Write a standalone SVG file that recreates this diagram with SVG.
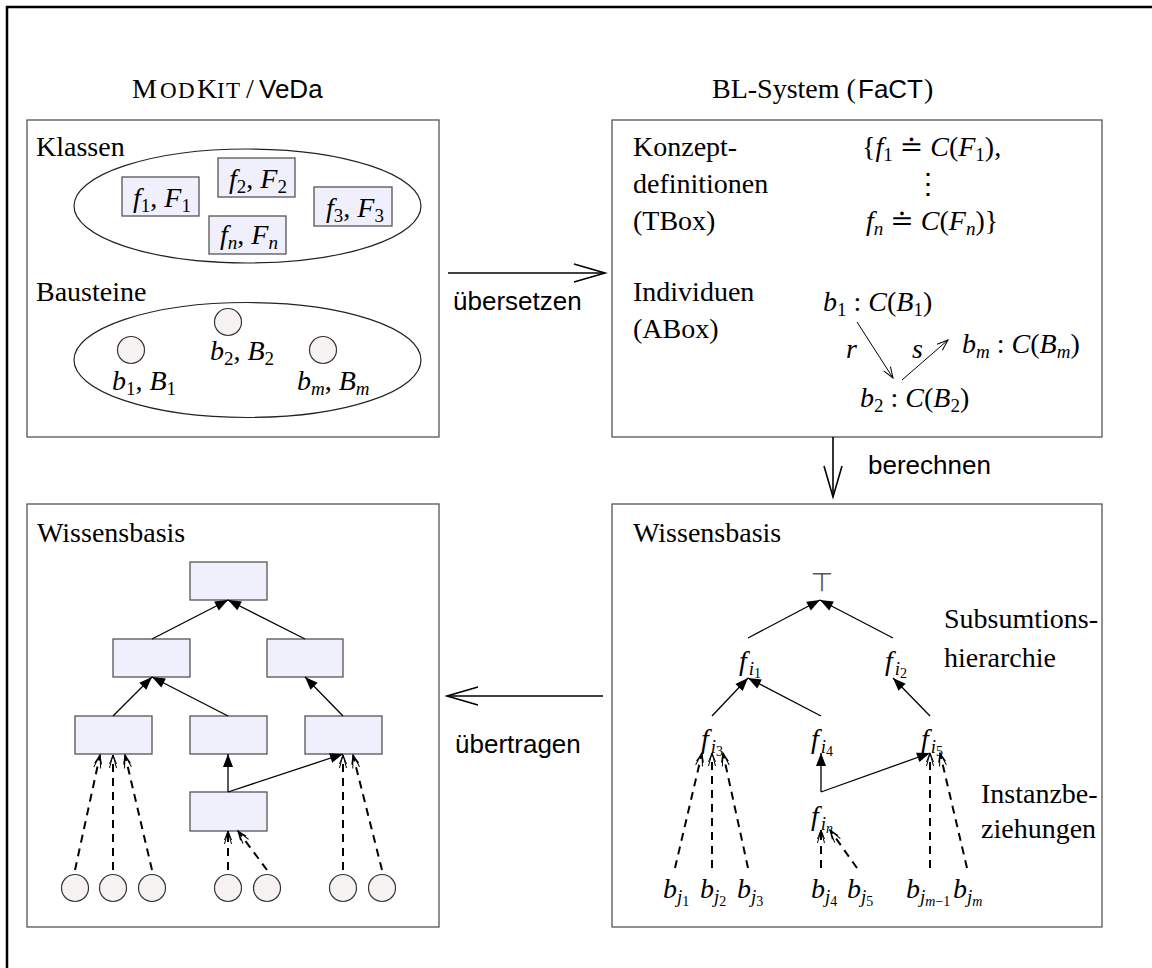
<svg xmlns="http://www.w3.org/2000/svg" width="1152" height="968" viewBox="0 0 1152 968">
<style>
.rm{font-family:"Liberation Serif","DejaVu Serif",serif;font-size:28px;fill:#000}
.it{font-style:italic}
.sb{font-size:19px}
.ss{font-size:14px}
.sf{font-family:"Liberation Sans","DejaVu Sans",sans-serif;font-size:26px;fill:#000}
.panel{fill:#fff;stroke:#555;stroke-width:1.3}
.box{fill:#f0f0fc;stroke:#555;stroke-width:1.3}
.ball{fill:#f7f2f2;stroke:#333;stroke-width:1.2}
.ell{fill:none;stroke:#222;stroke-width:1.2}
.big{fill:none;stroke:#000;stroke-width:1.6;marker-end:url(#bigo)}
.sol{fill:none;stroke:#000;stroke-width:1.3;marker-end:url(#tri)}
.dsh{fill:none;stroke:#000;stroke-width:2;stroke-dasharray:8 6;marker-end:url(#dh)}
.thin{fill:none;stroke:#000;stroke-width:1;marker-end:url(#so)}
</style>
<defs>
<marker id="bigo" markerUnits="userSpaceOnUse" markerWidth="34" markerHeight="20" refX="31" refY="9" orient="auto" overflow="visible"><path d="M0,0 L31,9 L0,18" fill="none" stroke="#000" stroke-width="1.6"/></marker>
<marker id="tri" markerUnits="userSpaceOnUse" markerWidth="14" markerHeight="12" refX="13" refY="5" orient="auto" overflow="visible"><path d="M0,0 L13,5 L0,10 z" fill="#000" stroke="none"/></marker>
<marker id="dh" markerUnits="userSpaceOnUse" markerWidth="16" markerHeight="10" refX="13" refY="4" orient="auto" overflow="visible"><path d="M0,0.5 L13,4 L0,7.5 M4,0.5 L13,4 L4,7.5" fill="none" stroke="#000" stroke-width="1" stroke-dasharray="none"/></marker>
<marker id="so" markerUnits="userSpaceOnUse" markerWidth="12" markerHeight="10" refX="11" refY="4" orient="auto" overflow="visible"><path d="M0,0 L11,4 L0,8" fill="none" stroke="#000" stroke-width="1"/></marker>
</defs>
<rect width="1152" height="968" fill="#fff"/>
<g id="frame"><path d="M7,968 L7,7 L1152,7" fill="none" stroke="#000" stroke-width="2.5"/></g>

<g id="titles">
<text class="rm" y="98"><tspan x="132">M</tspan><tspan x="160" font-size="23">O</tspan><tspan x="178" font-size="23">D</tspan><tspan x="197">K</tspan><tspan x="217" font-size="23">I</tspan><tspan x="226" font-size="23">T</tspan></text>
<text class="rm" x="246" y="98">/</text>
<text class="sf" x="259" y="98">VeDa</text>
<text class="rm" x="712" y="98">BL-System (</text>
<text class="sf" x="858" y="98">FaCT</text>
<text class="rm" x="924" y="98">)</text>
</g>

<g id="panel-modkit">
<rect class="panel" x="27" y="120" width="412" height="317"/>
<text class="rm" x="36" y="156">Klassen</text>
<ellipse class="ell" cx="247.5" cy="206" rx="173.5" ry="57"/>
<g id="class-f1"><rect class="box" x="122" y="177" width="77" height="39"/><text class="rm" x="133" y="207"><tspan class="it">f</tspan><tspan class="sb" dy="5">1</tspan><tspan dy="-5">, </tspan><tspan class="it">F</tspan><tspan class="sb" dy="5">1</tspan></text></g>
<g id="class-f2"><rect class="box" x="218" y="158" width="77" height="39"/><text class="rm" x="229" y="188"><tspan class="it">f</tspan><tspan class="sb" dy="5">2</tspan><tspan dy="-5">, </tspan><tspan class="it">F</tspan><tspan class="sb" dy="5">2</tspan></text></g>
<g id="class-f3"><rect class="box" x="314" y="187" width="78" height="39"/><text class="rm" x="326" y="217"><tspan class="it">f</tspan><tspan class="sb" dy="5">3</tspan><tspan dy="-5">, </tspan><tspan class="it">F</tspan><tspan class="sb" dy="5">3</tspan></text></g>
<g id="class-fn"><rect class="box" x="209" y="216" width="77" height="38"/><text class="rm" x="220" y="244"><tspan class="it">f</tspan><tspan class="sb it" dy="5">n</tspan><tspan dy="-5">, </tspan><tspan class="it">F</tspan><tspan class="sb it" dy="5">n</tspan></text></g>
<text class="rm" x="36" y="301">Bausteine</text>
<ellipse class="ell" cx="247.5" cy="360" rx="173.5" ry="57.5"/>
<g id="b1"><circle class="ball" cx="131" cy="350" r="13.5"/><text class="rm" x="112" y="390"><tspan class="it">b</tspan><tspan class="sb" dy="5">1</tspan><tspan dy="-5">, </tspan><tspan class="it">B</tspan><tspan class="sb" dy="5">1</tspan></text></g>
<g id="b2"><circle class="ball" cx="228" cy="322" r="13.5"/><text class="rm" x="210" y="360"><tspan class="it">b</tspan><tspan class="sb" dy="5">2</tspan><tspan dy="-5">, </tspan><tspan class="it">B</tspan><tspan class="sb" dy="5">2</tspan></text></g>
<g id="bm"><circle class="ball" cx="323" cy="350" r="13.5"/><text class="rm" x="297" y="390"><tspan class="it">b</tspan><tspan class="sb it" dy="5">m</tspan><tspan dy="-5">, </tspan><tspan class="it">B</tspan><tspan class="sb it" dy="5">m</tspan></text></g>
</g>

<g id="panel-bl">
<rect class="panel" x="612" y="120" width="490" height="317"/>
<text class="rm" x="633" y="156">Konzept-</text>
<text class="rm" x="633" y="193">definitionen</text>
<text class="rm" x="633" y="230">(TBox)</text>
<text class="rm" x="862" y="156">{<tspan class="it">f</tspan><tspan class="sb" dy="5">1</tspan><tspan dy="-5"> ≐ </tspan><tspan class="it">C</tspan>(<tspan class="it">F</tspan><tspan class="sb" dy="5">1</tspan><tspan dy="-5">),</tspan></text>
<text class="rm" x="928" y="193" text-anchor="middle">⋮</text>
<text class="rm" x="866" y="230"><tspan class="it">f</tspan><tspan class="sb it" dy="5">n</tspan><tspan dy="-5"> ≐ </tspan><tspan class="it">C</tspan>(<tspan class="it">F</tspan><tspan class="sb it" dy="5">n</tspan><tspan dy="-5">)}</tspan></text>
<text class="rm" x="633" y="301">Individuen</text>
<text class="rm" x="633" y="338">(ABox)</text>
<text class="rm" x="823" y="311"><tspan class="it">b</tspan><tspan class="sb" dy="5">1</tspan><tspan dy="-5"> : </tspan><tspan class="it">C</tspan>(<tspan class="it">B</tspan><tspan class="sb" dy="5">1</tspan><tspan dy="-5">)</tspan></text>
<text class="rm" x="962" y="353"><tspan class="it">b</tspan><tspan class="sb it" dy="5">m</tspan><tspan dy="-5"> : </tspan><tspan class="it">C</tspan>(<tspan class="it">B</tspan><tspan class="sb it" dy="5">m</tspan><tspan dy="-5">)</tspan></text>
<text class="rm" x="860" y="407"><tspan class="it">b</tspan><tspan class="sb" dy="5">2</tspan><tspan dy="-5"> : </tspan><tspan class="it">C</tspan>(<tspan class="it">B</tspan><tspan class="sb" dy="5">2</tspan><tspan dy="-5">)</tspan></text>
<text class="rm it" x="846" y="358">r</text>
<text class="rm it" x="912" y="358">s</text>
</g>

<g id="panel-kb-left">
<rect class="panel" x="27" y="504" width="412" height="423"/>
<text class="rm" x="37" y="542">Wissensbasis</text>
<rect id="kl-top" class="box" x="190" y="562" width="77" height="38"/>
<rect id="kl-l1" class="box" x="113" y="639" width="77" height="38"/>
<rect id="kl-r1" class="box" x="267" y="639" width="76" height="38"/>
<rect id="kl-a" class="box" x="75" y="716" width="77" height="38"/>
<rect id="kl-b" class="box" x="190" y="716" width="77" height="38"/>
<rect id="kl-c" class="box" x="305" y="716" width="77" height="38"/>
<rect id="kl-n" class="box" x="190" y="792" width="77" height="39"/>
<circle class="ball" cx="75" cy="888" r="13.5"/>
<circle class="ball" cx="113" cy="888" r="13.5"/>
<circle class="ball" cx="152" cy="888" r="13.5"/>
<circle class="ball" cx="228" cy="888" r="13.5"/>
<circle class="ball" cx="267" cy="888" r="13.5"/>
<circle class="ball" cx="343" cy="888" r="13.5"/>
<circle class="ball" cx="382" cy="888" r="13.5"/>
</g>

<g id="panel-kb-right">
<rect class="panel" x="612" y="504" width="490" height="423"/>
<text class="rm" x="633" y="542">Wissensbasis</text>
<text x="822" y="591" text-anchor="middle" font-family="DejaVu Sans,sans-serif" font-size="26" fill="#555">⊤</text>
<text class="rm" x="739" y="670"><tspan class="it">f</tspan><tspan class="sb it" dx="2" dy="5">i</tspan><tspan class="ss" dy="3">1</tspan></text>
<text class="rm" x="885" y="670"><tspan class="it">f</tspan><tspan class="sb it" dx="2" dy="5">i</tspan><tspan class="ss" dy="3">2</tspan></text>
<text class="rm" x="701" y="748"><tspan class="it">f</tspan><tspan class="sb it" dx="2" dy="5">i</tspan><tspan class="ss" dy="3">3</tspan></text>
<text class="rm" x="811" y="748"><tspan class="it">f</tspan><tspan class="sb it" dx="2" dy="5">i</tspan><tspan class="ss" dy="3">4</tspan></text>
<text class="rm" x="921" y="748"><tspan class="it">f</tspan><tspan class="sb it" dx="2" dy="5">i</tspan><tspan class="ss" dy="3">5</tspan></text>
<text class="rm" x="811" y="825"><tspan class="it">f</tspan><tspan class="sb it" dx="2" dy="5">i</tspan><tspan class="ss it" dy="3">n</tspan></text>
<text class="rm" x="944" y="628">Subsumtions-</text>
<text class="rm" x="944" y="667">hierarchie</text>
<text class="rm" x="981" y="803">Instanzbe-</text>
<text class="rm" x="981" y="838">ziehungen</text>
<text class="rm" x="663" y="898"><tspan class="it">b</tspan><tspan class="sb it" dy="5">j</tspan><tspan class="ss" dy="3">1</tspan></text>
<text class="rm" x="700" y="898"><tspan class="it">b</tspan><tspan class="sb it" dy="5">j</tspan><tspan class="ss" dy="3">2</tspan></text>
<text class="rm" x="737" y="898"><tspan class="it">b</tspan><tspan class="sb it" dy="5">j</tspan><tspan class="ss" dy="3">3</tspan></text>
<text class="rm" x="811" y="898"><tspan class="it">b</tspan><tspan class="sb it" dy="5">j</tspan><tspan class="ss" dy="3">4</tspan></text>
<text class="rm" x="847" y="898"><tspan class="it">b</tspan><tspan class="sb it" dy="5">j</tspan><tspan class="ss" dy="3">5</tspan></text>
<text class="rm" x="906" y="898"><tspan class="it">b</tspan><tspan class="sb it" dy="5">j</tspan><tspan class="ss it" dy="3">m</tspan><tspan class="ss">−1</tspan></text>
<text class="rm" x="953" y="898"><tspan class="it">b</tspan><tspan class="sb it" dy="5">j</tspan><tspan class="ss it" dy="3">m</tspan></text>
</g>

<g id="connectors">
<path class="big" d="M448,273 L605,273"/>
<text class="sf" x="453" y="310">übersetzen</text>
<path class="big" d="M833,437 L833,497"/>
<text class="sf" x="868" y="474">berechnen</text>
<path class="big" d="M603,696 L447,696"/>
<text class="sf" x="455" y="753">übertragen</text>
<path class="thin" d="M857,322 L893,378"/>
<path class="thin" d="M902,380 L948,340"/>
<path class="sol" d="M152,639 L228,600"/>
<path class="sol" d="M305,639 L228,600"/>
<path class="sol" d="M113,716 L152,677"/>
<path class="sol" d="M228,716 L152,677"/>
<path class="sol" d="M343,716 L305,677"/>
<path class="sol" d="M228,792 L228,754"/>
<path class="sol" d="M228,792 L343,754"/>
<path class="dsh" d="M75,870 L100,755"/>
<path class="dsh" d="M113,870 L113,755"/>
<path class="dsh" d="M152,870 L125,755"/>
<path class="dsh" d="M228,870 L228,831"/>
<path class="dsh" d="M267,870 L238,831"/>
<path class="dsh" d="M343,870 L343,755"/>
<path class="dsh" d="M382,870 L353,755"/>
<path class="sol" d="M748,638 L820,600"/>
<path class="sol" d="M893,638 L820,600"/>
<path class="sol" d="M712,716 L748,678"/>
<path class="sol" d="M821,716 L748,678"/>
<path class="sol" d="M930,716 L893,678"/>
<path class="sol" d="M821,792 L821,753"/>
<path class="sol" d="M821,792 L930,753"/>
<path class="dsh" d="M675,868 L702,753"/>
<path class="dsh" d="M712,868 L712,753"/>
<path class="dsh" d="M748,868 L723,753"/>
<path class="dsh" d="M821,868 L821,830"/>
<path class="dsh" d="M857,868 L830,830"/>
<path class="dsh" d="M930,868 L930,753"/>
<path class="dsh" d="M967,868 L940,753"/>
</g>
</svg>
